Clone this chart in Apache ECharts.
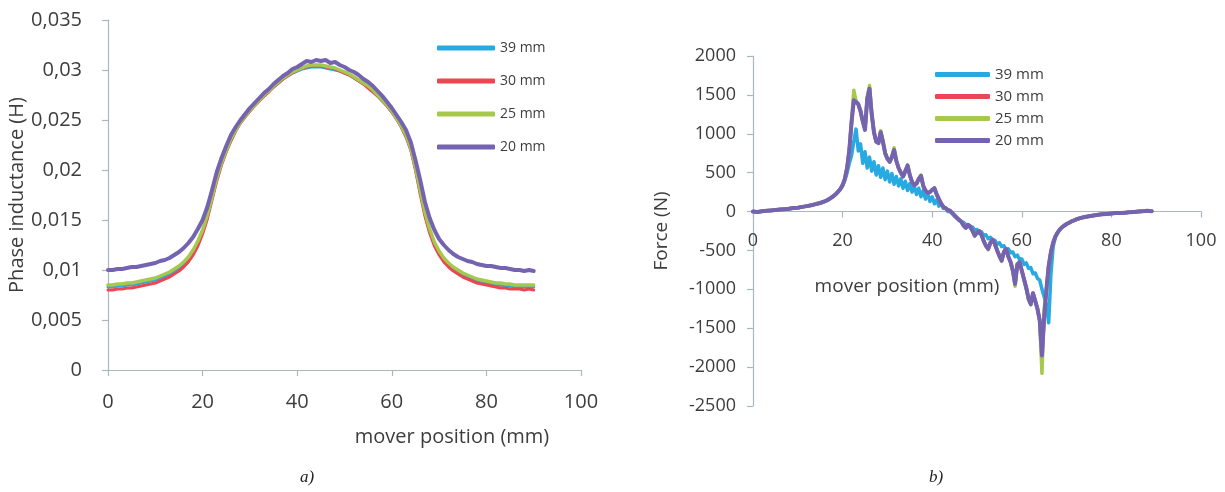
<!DOCTYPE html>
<html>
<head>
<meta charset="utf-8">
<script src="https://cdn.jsdelivr.net/npm/echarts@6/dist/echarts.min.js"></script>
<style>
  html, body { margin: 0; padding: 0; background: #ffffff; }
  #chart { width: 1225px; height: 492px; }
</style>
</head>
<body>
<div id="chart"></div>
<script>
// ---- a) phase inductance vs mover position ----
const seriesNames = ['39 mm', '30 mm', '25 mm', '20 mm'];
const seriesColors = ['#27a9e1', '#ea4753', '#a6c84c', '#7463b1'];

const inductancePos = [
  0, 1, 2, 3, 4, 5, 6, 7, 8, 9, 10, 11, 12, 13, 14, 15, 16, 17, 18, 19,
  20, 21, 22, 23, 24, 25, 26, 27, 28, 29, 30, 31, 32, 33, 34, 35, 36, 37, 38, 39,
  40, 41, 42, 43, 44, 45, 46, 47, 48, 49, 50, 51, 52, 53, 54, 55, 56, 57, 58, 59,
  60, 61, 62, 63, 64, 65, 66, 67, 68, 69, 70, 71, 72, 73, 74, 75, 76, 77, 78, 79,
  80, 81, 82, 83, 84, 85, 86, 87, 88, 89, 90
];
const inductance39 = [
  0.0083, 0.0083, 0.0084, 0.0084, 0.0085, 0.0085, 0.0086, 0.0087, 0.0088, 0.0089,
  0.0090, 0.0092, 0.0094, 0.0096, 0.0099, 0.0102, 0.0106, 0.0111, 0.0118, 0.0127,
  0.0138, 0.0153, 0.0172, 0.0191, 0.0206, 0.0219, 0.0230, 0.0240, 0.0247, 0.0254,
  0.0259, 0.0265, 0.0270, 0.0274, 0.0279, 0.0283, 0.0287, 0.0291, 0.0294, 0.0297,
  0.0299, 0.0301, 0.0302, 0.0303, 0.0303, 0.0303, 0.0302, 0.0301, 0.0300, 0.0299,
  0.0297, 0.0295, 0.0292, 0.0289, 0.0286, 0.0283, 0.0279, 0.0274, 0.0269, 0.0264,
  0.0258, 0.0251, 0.0243, 0.0234, 0.0221, 0.0201, 0.0178, 0.0156, 0.0139, 0.0126,
  0.0117, 0.0110, 0.0105, 0.0101, 0.0098, 0.0095, 0.0093, 0.0091, 0.0089, 0.0088,
  0.0087, 0.0086, 0.0085, 0.0085, 0.0084, 0.0084, 0.0083, 0.0083, 0.0083, 0.0083, 0.0083
];
const inductance30 = [
  0.0080, 0.0080, 0.0081, 0.0081, 0.0082, 0.0082, 0.0083, 0.0084, 0.0085, 0.0086,
  0.0087, 0.0089, 0.0091, 0.0093, 0.0096, 0.0099, 0.0103, 0.0108, 0.0115, 0.0124,
  0.0136, 0.0151, 0.0170, 0.0189, 0.0205, 0.0218, 0.0229, 0.0239, 0.0247, 0.0253,
  0.0259, 0.0264, 0.0269, 0.0274, 0.0278, 0.0283, 0.0287, 0.0291, 0.0294, 0.0297,
  0.0300, 0.0302, 0.0303, 0.0304, 0.0304, 0.0304, 0.0303, 0.0302, 0.0301, 0.0299,
  0.0297, 0.0295, 0.0292, 0.0289, 0.0286, 0.0282, 0.0278, 0.0274, 0.0269, 0.0264,
  0.0258, 0.0251, 0.0243, 0.0233, 0.0220, 0.0200, 0.0176, 0.0154, 0.0137, 0.0124,
  0.0115, 0.0108, 0.0103, 0.0099, 0.0096, 0.0093, 0.0091, 0.0089, 0.0087, 0.0086,
  0.0085, 0.0084, 0.0083, 0.0082, 0.0082, 0.0081, 0.0081, 0.0081, 0.0080, 0.0081, 0.0080
];
const inductance25 = [
  0.0085, 0.0085, 0.0086, 0.0086, 0.0087, 0.0087, 0.0088, 0.0089, 0.0090, 0.0091,
  0.0092, 0.0094, 0.0096, 0.0098, 0.0101, 0.0104, 0.0108, 0.0113, 0.0120, 0.0129,
  0.0140, 0.0155, 0.0173, 0.0192, 0.0207, 0.0220, 0.0231, 0.0240, 0.0248, 0.0254,
  0.0260, 0.0265, 0.0270, 0.0275, 0.0279, 0.0284, 0.0288, 0.0292, 0.0295, 0.0298,
  0.0300, 0.0302, 0.0304, 0.0305, 0.0305, 0.0305, 0.0304, 0.0303, 0.0302, 0.0300,
  0.0298, 0.0296, 0.0293, 0.0290, 0.0287, 0.0284, 0.0280, 0.0275, 0.0270, 0.0265,
  0.0259, 0.0252, 0.0244, 0.0235, 0.0222, 0.0203, 0.0180, 0.0158, 0.0141, 0.0128,
  0.0119, 0.0112, 0.0107, 0.0103, 0.0100, 0.0097, 0.0095, 0.0093, 0.0091, 0.0090,
  0.0089, 0.0088, 0.0087, 0.0087, 0.0086, 0.0086, 0.0085, 0.0085, 0.0085, 0.0085, 0.0085
];
const inductance20 = [
  0.0100, 0.0100, 0.0101, 0.0101, 0.0102, 0.0103, 0.0103, 0.0104, 0.0105, 0.0106,
  0.0107, 0.0109, 0.0110, 0.0112, 0.0115, 0.0118, 0.0122, 0.0127, 0.0133, 0.0141,
  0.0150, 0.0163, 0.0180, 0.0198, 0.0212, 0.0224, 0.0235, 0.0243, 0.0250, 0.0256,
  0.0262, 0.0267, 0.0272, 0.0277, 0.0281, 0.0286, 0.0290, 0.0294, 0.0297, 0.0301,
  0.0303, 0.0306, 0.0309, 0.0308, 0.0310, 0.0309, 0.0310, 0.0307, 0.0308, 0.0305,
  0.0303, 0.0300, 0.0298, 0.0295, 0.0291, 0.0288, 0.0284, 0.0279, 0.0274, 0.0268,
  0.0262, 0.0255, 0.0248, 0.0240, 0.0228, 0.0210, 0.0190, 0.0168, 0.0152, 0.0140,
  0.0131, 0.0125, 0.0120, 0.0116, 0.0113, 0.0111, 0.0109, 0.0108, 0.0106, 0.0105,
  0.0104, 0.0104, 0.0103, 0.0102, 0.0102, 0.0101, 0.0100, 0.0100, 0.0099, 0.0100, 0.0099
];
const inductanceTickLabels = ['0', '0,005', '0,01', '0,015', '0,02', '0,025', '0,03', '0,035'];

// ---- b) force vs mover position ----
const forcePos = [
  0, 1, 2, 3, 4, 5, 6, 7, 8, 9, 10, 11, 12, 13, 14, 15, 16, 17, 18,
  18.5, 19, 19.5, 20, 20.5, 21, 21.5, 22, 22.5, 23, 23.5, 24, 24.5, 25, 25.5, 26,
  26.5, 27, 27.5, 28, 28.5, 29, 29.5, 30, 30.5, 31, 31.5, 32, 32.5, 33, 33.5, 34,
  34.5, 35, 35.5, 36, 36.5, 37, 37.5, 38, 38.5, 39, 39.5, 40, 40.5, 41, 41.5, 42,
  42.5, 43, 43.5, 44, 44.5, 45, 45.5, 46, 46.5, 47, 47.5, 48, 48.5, 49, 49.5, 50,
  50.5, 51, 51.5, 52, 52.5, 53, 53.5, 54, 54.5, 55, 55.5, 56, 56.5, 57, 57.5, 58,
  58.5, 59, 59.5, 60, 60.5, 61, 61.5, 62, 62.5, 63, 63.5, 64, 64.5, 65, 65.5, 66,
  66.5, 67, 67.5, 68, 68.5, 69, 69.5, 70,
  71, 72, 73, 74, 75, 76, 77, 78, 79, 80, 81, 82, 83, 84, 85, 86, 87, 88, 89
];
const force39 = [
  0, -5, 5, 10, 15, 20, 25, 30, 35, 45, 50, 60, 70, 80, 95, 110, 130, 160, 200,
  225, 255, 290, 330, 400, 500, 620, 720, 900, 1060, 780, 870, 620, 770, 560, 700,
  520, 640, 470, 590, 440, 560, 410, 520, 380, 490, 350, 450, 330, 420, 300, 390,
  270, 360, 250, 330, 220, 300, 190, 270, 160, 230, 130, 190, 100, 150, 70, 100,
  40, 50, 0, 0, -30, -60, -80, -100, -130, -140, -170, -170, -210, -200, -240, -230,
  -280, -260, -310, -300, -350, -330, -380, -370, -420, -400, -450, -440, -500, -480, -530, -520,
  -580, -560, -620, -610, -680, -660, -730, -720, -800, -790, -860, -880, -1000, -1100, -1200, -1430,
  -800, -450, -330, -270, -230, -200, -180, -160,
  -130, -105, -85, -70, -60, -50, -40, -35, -30, -25, -20, -20, -15, -10, -5, 0, 5, 10, 5
];
const force30 = [
  0, -5, 5, 10, 15, 20, 25, 30, 35, 45, 50, 60, 70, 80, 95, 110, 130, 160, 200,
  225, 255, 290, 340, 420, 560, 790, 1150, 1440, 1400, 1380, 1290, 1160, 1060, 1450, 1590,
  1250, 1020, 900, 880, 1020, 900, 750, 680, 640, 700, 790, 650, 560, 500, 450, 520,
  590, 470, 380, 340, 360, 420, 460, 330, 270, 240, 250, 280, 300, 220, 160, 100,
  60, 40, 20, 10, -20, -50, -80, -110, -130, -180, -210, -170, -190, -250, -310, -270,
  -250, -300, -380, -440, -480, -400, -360, -420, -500, -570, -630, -520, -480, -580, -650, -760,
  -930, -680, -650, -760, -870, -980, -1120, -1190, -1050, -1150, -1250, -1400, -1860, -1350, -1000, -700,
  -520, -400, -320, -270, -230, -200, -180, -160,
  -130, -105, -85, -70, -60, -50, -40, -35, -30, -25, -20, -20, -15, -10, -5, 0, 5, 10, 5
];
const force25 = [
  0, -5, 5, 10, 15, 20, 25, 30, 35, 45, 50, 60, 70, 85, 100, 115, 135, 160, 200,
  225, 255, 290, 340, 420, 560, 790, 1160, 1560, 1420, 1380, 1290, 1160, 1060, 1470, 1620,
  1260, 1020, 900, 880, 1040, 900, 750, 680, 640, 710, 820, 650, 560, 500, 450, 520,
  600, 470, 380, 340, 360, 420, 470, 330, 270, 240, 250, 280, 300, 220, 160, 100,
  60, 40, 20, 10, -20, -50, -80, -110, -130, -180, -210, -170, -190, -250, -310, -270,
  -250, -300, -380, -440, -490, -400, -360, -420, -500, -580, -640, -520, -480, -580, -650, -770,
  -960, -680, -650, -760, -880, -990, -1130, -1200, -1050, -1150, -1260, -1410, -2080, -1250, -1000, -700,
  -520, -400, -320, -270, -230, -200, -180, -160,
  -130, -105, -85, -70, -60, -50, -40, -35, -30, -25, -20, -20, -15, -10, -5, 0, 5, 10, 5
];
const force20 = [
  0, -5, 5, 10, 15, 20, 25, 30, 35, 45, 50, 60, 70, 80, 95, 110, 130, 160, 200,
  225, 255, 290, 340, 420, 560, 790, 1150, 1430, 1410, 1380, 1290, 1160, 1050, 1450, 1580,
  1250, 1020, 900, 880, 1020, 900, 750, 680, 640, 700, 790, 650, 560, 500, 450, 520,
  590, 470, 380, 340, 360, 420, 460, 330, 270, 240, 250, 280, 300, 220, 160, 100,
  60, 40, 20, 10, -20, -50, -80, -110, -130, -180, -210, -170, -190, -250, -310, -270,
  -250, -300, -380, -440, -480, -400, -360, -420, -500, -570, -630, -520, -480, -580, -650, -760,
  -930, -680, -650, -760, -870, -980, -1120, -1190, -1050, -1150, -1250, -1400, -1850, -1350, -1000, -700,
  -520, -400, -320, -270, -230, -200, -180, -160,
  -130, -105, -85, -70, -60, -50, -40, -35, -30, -25, -20, -20, -15, -10, -5, 0, 5, 10, 5
];

// pair x positions with values for a value/value line series
function pairs(xs, ys) {
  return xs.map((x, i) => [x, ys[i]]);
}

const FONT = '"Open Sans", "DejaVu Sans", sans-serif';
const TEXT = '#3d3d3d';
const AXIS = '#a7b9bd';

const inductanceSets = [inductance39, inductance30, inductance25, inductance20];
const forceSets = [force39, force30, force25, force20];
const inductanceWidths = [3, 3, 3.5, 4];
const forceWidths = [3.5, 3.5, 3.5, 4];

const series = [];
seriesNames.forEach((name, i) => {
  series.push({
    name: name, type: 'line', xAxisIndex: 0, yAxisIndex: 0,
    data: pairs(inductancePos, inductanceSets[i]),
    showSymbol: false, symbol: 'none',
    lineStyle: { color: seriesColors[i], width: inductanceWidths[i], join: 'round', cap: 'round' },
    itemStyle: { color: seriesColors[i] }
  });
});
seriesNames.forEach((name, i) => {
  series.push({
    name: name, type: 'line', xAxisIndex: 1, yAxisIndex: 1,
    data: pairs(forcePos, forceSets[i]),
    showSymbol: false, symbol: 'none',
    lineStyle: { color: seriesColors[i], width: forceWidths[i], join: 'round', cap: 'round' },
    itemStyle: { color: seriesColors[i] }
  });
});

const tickStyle = { show: true, inside: false, length: 6, lineStyle: { color: AXIS, width: 1.2 } };
const lineStyle = { color: AXIS, width: 1.2 };

// force grid geometry: zero line sits 2000/4500 of the way down
const forceTop = 56, forceHeight = 350;
const zeroOffset = -forceHeight * 2500 / 4500;

const chart = echarts.init(document.getElementById('chart'), null, { renderer: 'canvas' });
chart.setOption({
  animation: false,
  backgroundColor: '#ffffff',
  grid: [
    { left: 108, top: 20, width: 473, height: 350, containLabel: false },
    { left: 753, top: forceTop, width: 448, height: forceHeight, containLabel: false }
  ],
  xAxis: [
    {
      gridIndex: 0, type: 'value', min: 0, max: 100, interval: 20,
      axisLine: { show: true, onZero: false, lineStyle: lineStyle },
      axisTick: tickStyle, splitLine: { show: false },
      axisLabel: { fontSize: 20, color: TEXT, fontFamily: FONT, margin: 22 }
    },
    {
      gridIndex: 1, type: 'value', min: 0, max: 100, interval: 20,
      position: 'bottom', offset: zeroOffset,
      axisLine: { show: true, onZero: false, lineStyle: lineStyle },
      axisTick: tickStyle, splitLine: { show: false },
      axisLabel: { fontSize: 18, color: TEXT, fontFamily: FONT, margin: 20 }
    }
  ],
  yAxis: [
    {
      gridIndex: 0, type: 'value', min: 0, max: 0.035, interval: 0.005,
      name: 'Phase inductance (H)', nameLocation: 'middle', nameGap: 78,
      nameTextStyle: { fontSize: 20, color: TEXT, fontFamily: FONT },
      axisLine: { show: true, onZero: false, lineStyle: lineStyle },
      axisTick: tickStyle, splitLine: { show: false },
      axisLabel: {
        fontSize: 20, color: TEXT, fontFamily: FONT, margin: 26,
        formatter: (v, idx) => inductanceTickLabels[idx]
      }
    },
    {
      gridIndex: 1, type: 'value', min: -2500, max: 2000, interval: 500,
      name: 'Force (N)', nameLocation: 'middle', nameGap: 82,
      nameTextStyle: { fontSize: 19, color: TEXT, fontFamily: FONT },
      axisLine: { show: true, onZero: false, lineStyle: lineStyle },
      axisTick: tickStyle, splitLine: { show: false },
      axisLabel: {
        fontSize: 18, color: TEXT, fontFamily: FONT, margin: 17,
        formatter: (v) => String(v)
      }
    }
  ],
  legend: [
    {
      data: seriesNames, orient: 'vertical', left: 437, top: 40, padding: 0,
      icon: 'roundRect', itemWidth: 58, itemHeight: 5, itemGap: 17,
      textStyle: { fontSize: 14, color: TEXT, fontFamily: FONT, lineHeight: 16 },
      selectedMode: false
    },
    {
      data: seriesNames, orient: 'vertical', left: 935, top: 67, padding: 0,
      icon: 'roundRect', itemWidth: 55, itemHeight: 5, itemGap: 7,
      textStyle: { fontSize: 15, color: TEXT, fontFamily: FONT, lineHeight: 14 },
      selectedMode: false
    }
  ],
  graphic: [
    { type: 'text', x: 452, y: 437,
      style: { text: 'mover position (mm)', align: 'center', verticalAlign: 'middle',
               font: '20px ' + FONT, fill: TEXT } },
    { type: 'text', x: 907, y: 287,
      style: { text: 'mover position (mm)', align: 'center', verticalAlign: 'middle',
               font: '19px ' + FONT, fill: TEXT } },
    { type: 'text', x: 307, y: 478,
      style: { text: 'a)', align: 'center', verticalAlign: 'middle',
               font: 'italic 17px "Liberation Serif", "DejaVu Serif", serif', fill: '#222222' } },
    { type: 'text', x: 936, y: 478,
      style: { text: 'b)', align: 'center', verticalAlign: 'middle',
               font: 'italic 17px "Liberation Serif", "DejaVu Serif", serif', fill: '#222222' } }
  ],
  series: series
});
</script>
</body>
</html>
